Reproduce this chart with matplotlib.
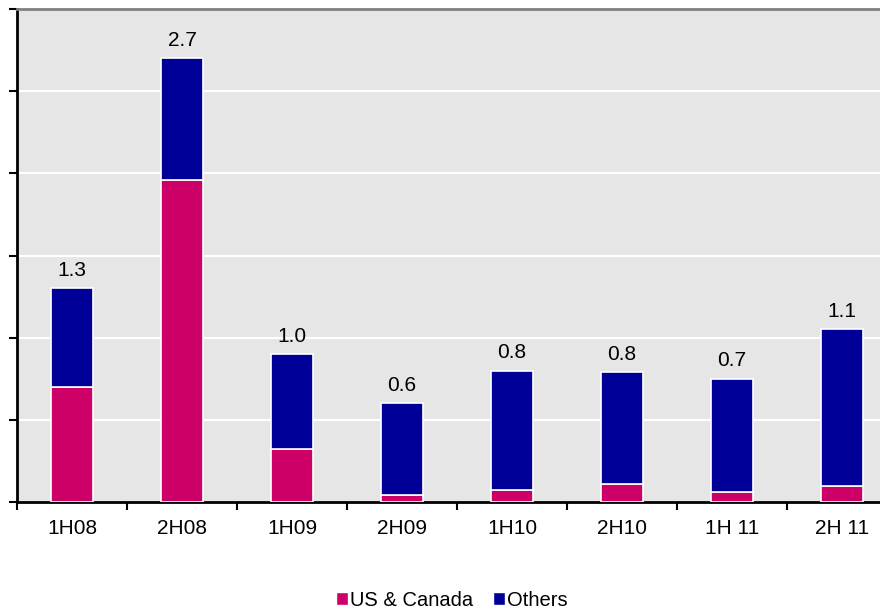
import matplotlib.pyplot as plt
from matplotlib.patches import Patch
import numpy as np

plt.rcParams['font.family'] = ['Liberation Sans', 'DejaVu Sans']

periods = ["1H08", "2H08", "1H09", "2H09", "1H10", "2H10", "1H 11", "2H 11"]
us_canada = [0.70, 1.96, 0.32, 0.04, 0.07, 0.11, 0.06, 0.10]
others = [0.60, 0.74, 0.58, 0.56, 0.73, 0.68, 0.69, 0.95]
total_labels = ["1.3", "2.7", "1.0", "0.6", "0.8", "0.8", "0.7", "1.1"]

c_us = "#CC0066"
c_oth = "#000099"

fig = plt.figure(figsize=(8.8, 6.1), dpi=100)
ax = fig.add_axes([17/880, 108/610, 880/880, 493/610])
ax.set_facecolor("#E6E6E6")

x = np.arange(len(periods))
ax.bar(x, us_canada, width=0.39, color=c_us, edgecolor="white", linewidth=1.2, zorder=3)
ax.bar(x, others, width=0.39, bottom=us_canada, color=c_oth, edgecolor="white",
       linewidth=1.2, zorder=3)

tops = np.array(us_canada) + np.array(others)
for xi, t, lab in zip(x, tops, total_labels):
    ax.annotate(lab, (xi, t), xytext=(0, 6), textcoords="offset points",
                ha="center", va="bottom", fontsize=15)

ax.set_xlim(-0.5, 7.5)
ax.set_ylim(0, 3.0)
ax.set_yticks(np.arange(0, 3.01, 0.5))
ax.set_yticklabels([])
ax.set_xticks(np.arange(-0.5, 7.6, 1), minor=False)
ax.set_xticklabels([])
ax.set_xticks(x, minor=True)
ax.set_xticklabels(periods, minor=True, fontsize=15)
ax.tick_params(axis="x", which="minor", length=0, pad=12)
ax.tick_params(axis="x", which="major", length=6, width=1.5, direction="out")
ax.tick_params(axis="y", length=6, width=1.5, direction="out")

ax.grid(axis="y", color="white", linewidth=1.5, zorder=1)
ax.set_axisbelow(True)
ax.spines["right"].set_visible(False)
ax.spines["top"].set_color("#808080")
ax.spines["top"].set_linewidth(2)
ax.spines["left"].set_linewidth(2)
ax.spines["bottom"].set_linewidth(2)

handles = [Patch(facecolor=c_us, edgecolor="white", label="US & Canada"),
           Patch(facecolor=c_oth, edgecolor="white", label="Others")]
fig.legend(handles=handles, loc="center", bbox_to_anchor=(452/880, 1 - 600/610),
           ncol=2, frameon=False, fontsize=14.5, handlelength=0.6, handleheight=0.6,
           handletextpad=0.1, columnspacing=1.0)

fig.savefig("out.png", dpi=100)
